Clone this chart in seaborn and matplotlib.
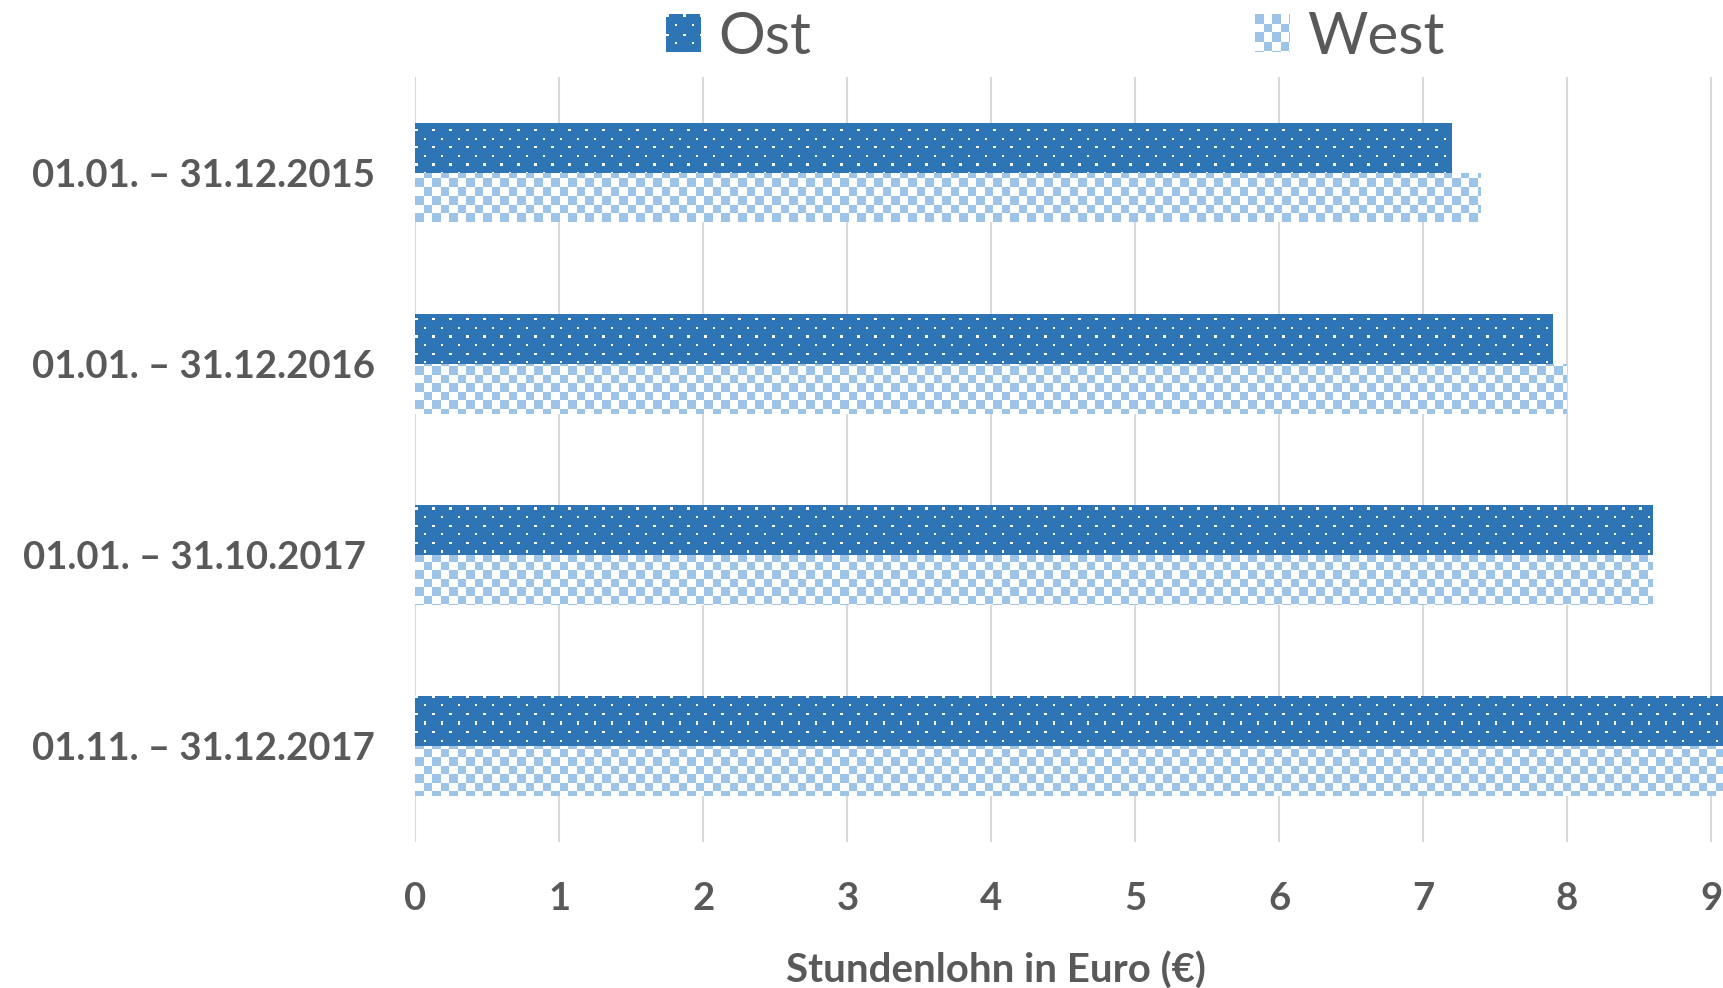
import matplotlib
matplotlib.use("Agg")
import matplotlib.pyplot as plt
import matplotlib.patches as mpatches
import matplotlib.colors as mcolors
from matplotlib.legend_handler import HandlerBase
from matplotlib.image import BboxImage
from matplotlib.transforms import Bbox, TransformedBbox
import seaborn as sns
import pandas as pd
import numpy as np

# Mindestlohn-Stufen (Euro pro Stunde)
zeitraeume = [
    "01.01. – 31.12.2015",
    "01.01. – 31.12.2016",
    "01.01. – 31.10.2017 ",
    "01.11. – 31.12.2017",
]
regionen = ["Ost", "West"]
lohn_ost = [7.20, 7.90, 8.60, 9.10]
lohn_west = [7.40, 8.00, 8.60, 9.10]
x_ticks = [0, 1, 2, 3, 4, 5, 6, 7, 8, 9]

df = pd.DataFrame({
    "Zeitraum": zeitraeume * 2,
    "Region": ["Ost"] * len(zeitraeume) + ["West"] * len(zeitraeume),
    "Lohn": lohn_ost + lohn_west,
})

sns.set_theme(style="white")
plt.rcParams["font.family"] = ["Lato", "DejaVu Sans"]

text_grey = "#595959"
farben = {"Ost": "#2E75B6", "West": "#9DC3E6"}

fig = plt.figure(figsize=(17.24, 9.88), dpi=100)
ax = fig.add_axes([0.241, 0.148, 0.759, 0.774])

sns.barplot(data=df, y="Zeitraum", x="Lohn", hue="Region", orient="h",
            palette=farben, width=0.52, order=zeitraeume, hue_order=regionen,
            legend=False, ax=ax, saturation=1)

ax.set_xlim(0, 9.09)
ax.set_ylim(3.5, -0.5)


def muster_bild(region, w, h):
    """Pixel texture: white dots on dark blue / light-blue checkerboard."""
    yy, xx = np.mgrid[0:h, 0:w]
    base = np.array(mcolors.to_rgb(farben[region]))
    img = np.ones((h, w, 3)) * base
    if region == "Ost":
        row = (yy // 8.6).astype(int)
        shift = np.where(row % 2 == 0, 0.0, 8.5)
        in_x = ((xx + shift) % 17.0) < 2.2
        in_y = (yy % 8.6) < 2.2
        img[in_x & in_y] = 1.0
    else:
        cell = 8.5
        white = ((xx // cell).astype(int) + (yy // cell).astype(int)) % 2 == 1
        img[white] = 1.0
    return img


# Texture each bar by a pattern image clipped to the bar's own shape
bbox = ax.get_window_extent(fig.canvas.get_renderer())
w_px, h_px = int(round(bbox.width)), int(round(bbox.height))
x0, x1 = ax.get_xlim()
y0, y1 = ax.get_ylim()
for region, container in zip(regionen, ax.containers):
    tex = muster_bild(region, w_px, h_px)
    for bar in container:
        bar.set_linewidth(0)
        im = ax.imshow(tex, extent=(x0, x1, y0, y1), origin="upper",
                       interpolation="nearest", aspect="auto",
                       zorder=bar.get_zorder() + 0.1)
        im.set_clip_path(bar)
ax.set_xlim(x0, x1)
ax.set_ylim(y0, y1)

ax.set_xticks(x_ticks)
ax.set_xticklabels([str(t) for t in x_ticks])
ax.grid(axis="x", color="#D9D9D9", linewidth=1.5)
ax.grid(axis="y", visible=False)
ax.set_axisbelow(True)
for s in ax.spines.values():
    s.set_visible(False)

ax.tick_params(axis="both", length=0, labelsize=27.5, labelcolor=text_grey)
ax.tick_params(axis="x", pad=29)
ax.tick_params(axis="y", pad=29)
for lbl in ax.get_xticklabels() + ax.get_yticklabels():
    lbl.set_fontweight("bold")

ax.set_ylabel("")
ax.set_xlabel("Stundenlohn in Euro (€)", fontsize=29, fontweight="bold",
              color=text_grey)
ax.xaxis.set_label_coords(0.4436, -0.143)


class TexturHandler(HandlerBase):
    """Legend key drawn with the same pixel texture as the bars."""

    def __init__(self, region):
        super().__init__()
        self.region = region

    def create_artists(self, legend, orig_handle, xdescent, ydescent,
                       width, height, fontsize, trans):
        box = Bbox.from_bounds(-xdescent, -ydescent, width, height)
        img = BboxImage(TransformedBbox(box, trans), interpolation="nearest")
        img.set_data(muster_bild(self.region, 35, 35))
        return [img]


handles = [mpatches.Patch(facecolor=farben[r], linewidth=0, label=r)
           for r in regionen]
fig.legend(handles=handles, loc="center", bbox_to_anchor=(0.612, 0.962),
           ncol=2, frameon=False, fontsize=42, labelcolor=text_grey,
           handlelength=0.6, handleheight=0.6, handletextpad=0.3,
           columnspacing=7.6,
           handler_map={h: TexturHandler(r) for h, r in zip(handles, regionen)})

fig.savefig("out.png", dpi=100)
